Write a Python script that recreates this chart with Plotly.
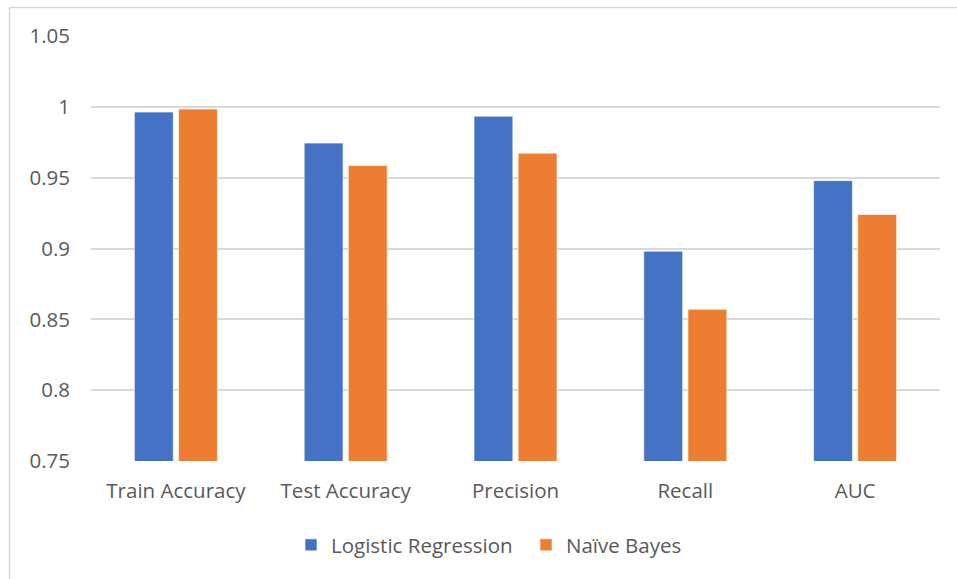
import plotly.graph_objects as go

categories = ["Train Accuracy", "Test Accuracy", "Precision", "Recall", "AUC"]
logistic_regression = [0.9963, 0.9744, 0.9934, 0.8981, 0.9479]
naive_bayes = [0.9984, 0.9586, 0.9673, 0.8571, 0.9240]
y_ticks = [0.75, 0.8, 0.85, 0.9, 0.95, 1, 1.05]
y_tick_labels = ["0.75", "0.8", "0.85", "0.9", "0.95", "1", "1.05"]

blue = "#4472C4"
orange = "#ED7D31"
text_gray = "#595959"
font_family = "Open Sans, Liberation Sans, sans-serif"
fs = 20.5

fig = go.Figure()
fig.add_trace(go.Bar(
    name="Logistic Regression", x=categories, y=logistic_regression,
    marker=dict(color=blue, line=dict(color="rgba(255,255,255,0.6)", width=1)),
))
fig.add_trace(go.Bar(
    name="Naïve Bayes", x=categories, y=naive_bayes,
    marker=dict(color=orange, line=dict(color="rgba(255,255,255,0.6)", width=1)),
))

W, H = 957, 579
ml, mr, mt, mb = 91, 17, 36, 118
pw, ph = W - ml - mr, H - mt - mb

fig.update_layout(
    width=W, height=H,
    margin=dict(l=ml, r=mr, t=mt, b=mb),
    paper_bgcolor="white", plot_bgcolor="white",
    barmode="group", bargap=0.48, bargroupgap=0.12,
    font=dict(family=font_family, size=fs, color=text_gray),
    xaxis=dict(showgrid=False, zeroline=False, showline=False, ticks="",
               tickfont=dict(size=fs, color=text_gray), ticklabelstandoff=15),
    yaxis=dict(range=[0.75, 1.05], tickvals=y_ticks, ticktext=y_tick_labels,
               showgrid=True, gridcolor="#D9D9D9", gridwidth=1.5,
               zeroline=False, showline=False, ticks="",
               tickfont=dict(size=fs, color=text_gray), ticklabelstandoff=20),
    showlegend=True,
    legend=dict(orientation="h", x=(526 - ml) / pw, xanchor="center",
                y=(H - mb - 545) / ph, yanchor="middle",
                font=dict(size=fs, color=text_gray), traceorder="normal",
                itemwidth=30, entrywidth=190),
    shapes=[dict(type="rect", xref="paper", yref="paper",
                 x0=(9.5 - ml) / pw, x1=(970 - ml) / pw,
                 y0=(H - mb - 600) / ph, y1=1 + (mt - 7.5) / ph,
                 line=dict(color="#D9D9D9", width=1.5), layer="below")],
)

fig.write_html("out.html")
